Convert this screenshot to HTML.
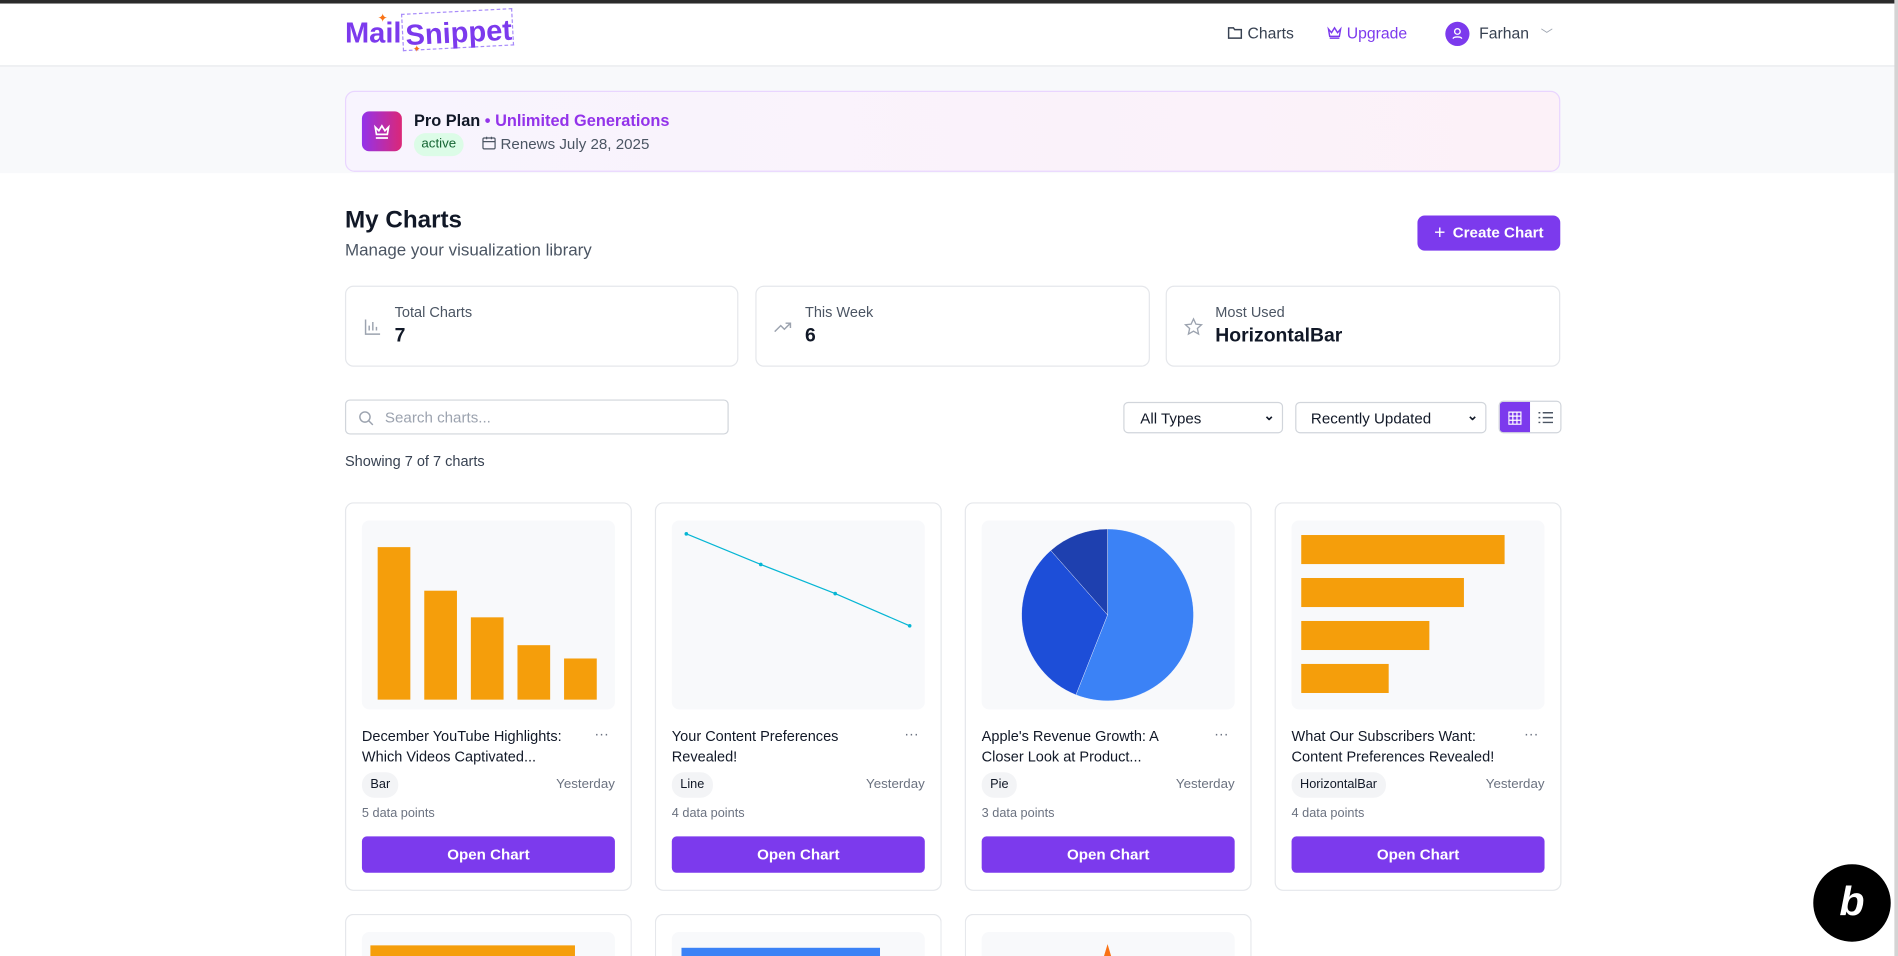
<!DOCTYPE html>
<html><head><meta charset="utf-8">
<style>
*{box-sizing:border-box;margin:0;padding:0}
html,body{width:1898px;height:956px;overflow:hidden;background:#fff;font-family:"Liberation Sans",Arial,sans-serif;color:#111827}
#wrap{position:absolute;left:0;top:0;width:1568px;height:790px;transform:scale(1.21046);transform-origin:0 0;background:#fff;overflow:hidden}
.abs{position:absolute}
.topbar{left:0;top:0;width:1568px;height:3px;background:#2b2b2b}
.header{left:0;top:3px;width:1568px;height:52px;background:#fff;border-bottom:1px solid #e5e7eb}
.grayband{left:0;top:55px;width:1568px;height:88px;background:#f8f9fb}
.nav{font-size:13px;color:#374151}
.banner{left:285px;top:75px;width:1004px;height:67px;border:1px solid #e9d5ff;border-radius:8px;background:linear-gradient(90deg,#f8f4fe,#fcf1f8)}
.card{border:1px solid #e5e7eb;border-radius:7px;background:#fff}
.stat .lbl{position:absolute;left:40px;top:14px;font-size:12px;color:#4b5563}
.stat .val{position:absolute;left:40px;top:32px;font-size:16px;font-weight:bold;color:#111827}
.ctl{border:1px solid #d1d5db;border-radius:4px;background:#fff;font-size:12.5px;color:#111827}
.chartcard .prev{position:absolute;left:13px;top:14px;width:209px;height:156px;background:#f8f9fb;border-radius:6px;overflow:hidden}
.chartcard .title{position:absolute;left:13px;top:184px;width:180px;font-size:12px;line-height:17px;color:#111827}
.chartcard .dots{position:absolute;left:205px;top:183px;font-size:12px;color:#6b7280;letter-spacing:0}
.chartcard .tag{position:absolute;left:13px;top:222px;height:21px;padding:0 7px;border-radius:10px;background:#f3f4f6;font-size:10.5px;line-height:21px;color:#111827}
.chartcard .when{position:absolute;right:13px;top:226px;font-size:11px;color:#6b7280}
.chartcard .pts{position:absolute;left:13px;top:250px;font-size:10.5px;color:#6b7280}
.chartcard .btn{position:absolute;left:13px;top:275px;width:209px;height:30px;border-radius:4px;background:#7c3aed;color:#fff;font-size:12.5px;font-weight:bold;text-align:center;line-height:30px}
</style></head><body>
<div id="wrap">
<div class="abs topbar"></div>
<div class="abs header"></div>
<div class="abs grayband"></div>

<div class="abs" style="left:285px;top:12px;width:145px;height:32px">
 <span class="abs" style="left:0;top:2px;font-size:24px;font-weight:bold;color:#7c3aed;white-space:nowrap">Mail</span>
 <span class="abs" style="left:27px;top:-2px;color:#f97316;font-size:10px">✦</span>
 <div class="abs" style="left:47px;top:-3px;width:92px;height:31px;border:1px dashed #a78bfa;transform:rotate(-3deg)"></div>
 <span class="abs" style="left:50px;top:2px;font-size:24px;font-weight:bold;color:#7c3aed;white-space:nowrap;transform:rotate(-3deg)">Snippet</span>
 <span class="abs" style="left:56px;top:24px;color:#f97316;font-size:8px">✦</span>
</div>

<div class="abs nav" style="left:1014px;top:20px">
 <svg width="13" height="12" viewBox="0 0 13 12" style="vertical-align:-1px"><path d="M1 2h4l1 1.5h5.5v7H1z" fill="none" stroke="#374151" stroke-width="1.2"/></svg> Charts</div>
<div class="abs nav" style="left:1096px;top:20px;color:#7c3aed">
 <svg width="13" height="12" viewBox="0 0 13 12" style="vertical-align:-1px"><path d="M1.5 3l2.5 3 2.5-4 2.5 4 2.5-3-1 6h-8z M2.5 10.5h8" fill="none" stroke="#7c3aed" stroke-width="1.2"/></svg> Upgrade</div>
<div class="abs" style="left:1194px;top:18px;width:20px;height:20px;border-radius:50%;background:#7c3aed">
 <svg width="20" height="20" viewBox="0 0 20 20"><circle cx="10" cy="8" r="2.3" fill="none" stroke="#fff" stroke-width="1.1"/><path d="M6.5 14c0-2 7-2 7 0" fill="none" stroke="#fff" stroke-width="1.1"/></svg></div>
<div class="abs nav" style="left:1222px;top:20px">Farhan <span style="color:#9ca3af;margin-left:6px;font-size:10px">﹀</span></div>

<div class="abs banner">
 <div class="abs" style="left:13px;top:16px;width:33px;height:33px;border-radius:6px;background:linear-gradient(90deg,#9333ea,#db2777)">
  <svg width="33" height="33" viewBox="0 0 33 33"><path d="M11 13l3 3 2.5-4 2.5 4 3-3-1 6h-9z M11.5 22h10" fill="none" stroke="#fff" stroke-width="1.4"/></svg></div>
 <div class="abs" style="left:56px;top:16px;font-size:13.5px;font-weight:bold;white-space:nowrap">Pro Plan <span style="color:#9333ea">• Unlimited Generations</span></div>
 <div class="abs" style="left:56px;top:34px;width:41px;height:19px;border-radius:10px;background:#dcfce7;color:#166534;font-size:11px;line-height:19px;text-align:center">active</div>
 <div class="abs" style="left:112px;top:36px;font-size:12.5px;color:#4b5563;white-space:nowrap">
  <svg width="12" height="12" viewBox="0 0 12 12" style="vertical-align:-1px"><rect x="1" y="2" width="10" height="9" rx="1" fill="none" stroke="#4b5563"/><path d="M1 5h10M4 1v2M8 1v2" stroke="#4b5563"/></svg> Renews July 28, 2025</div>
</div>

<div class="abs" style="left:285px;top:171px;font-size:20px;font-weight:bold">My Charts</div>
<div class="abs" style="left:285px;top:198px;font-size:14px;color:#4b5563">Manage your visualization library</div>
<div class="abs" style="left:1171px;top:178px;width:118px;height:29px;border-radius:6px;background:#7c3aed;color:#fff;font-size:12.5px;font-weight:bold;line-height:29px;text-align:center"><span style="font-size:16px;font-weight:normal;vertical-align:-1px;margin-right:6px">+</span>Create Chart</div>

<div class="abs card stat" style="left:285px;top:236px;width:325px;height:67px">
 <svg class="abs" style="left:15px;top:26px" width="14" height="14" viewBox="0 0 14 14"><path d="M1 1v12h12M4 10V6M7 10V3M10 10V7" fill="none" stroke="#9ca3af" stroke-width="1.2"/></svg>
 <div class="lbl">Total Charts</div><div class="val">7</div></div>
<div class="abs card stat" style="left:624px;top:236px;width:326px;height:67px">
 <svg class="abs" style="left:14px;top:27px" width="16" height="12" viewBox="0 0 16 12"><path d="M1 10l5-5 3 3 5-5M10 3h4v4" fill="none" stroke="#9ca3af" stroke-width="1.2"/></svg>
 <div class="lbl">This Week</div><div class="val">6</div></div>
<div class="abs card stat" style="left:963px;top:236px;width:326px;height:67px">
 <svg class="abs" style="left:14px;top:25px" width="16" height="16" viewBox="0 0 16 16"><path d="M8 1.5l2 4.3 4.6.5-3.4 3.1 1 4.6L8 11.6 3.8 14l1-4.6L1.4 6.3 6 5.8z" fill="none" stroke="#9ca3af" stroke-width="1.1"/></svg>
 <div class="lbl">Most Used</div><div class="val">HorizontalBar</div></div>

<div class="abs ctl" style="left:285px;top:330px;width:317px;height:29px;border-color:#d1d5db">
 <svg class="abs" style="left:10px;top:8px" width="13" height="13" viewBox="0 0 13 13"><circle cx="5.5" cy="5.5" r="4.2" fill="none" stroke="#9ca3af" stroke-width="1.2"/><path d="M8.5 8.5l3.5 3.5" stroke="#9ca3af" stroke-width="1.2"/></svg>
 <span class="abs" style="left:32px;top:7px;color:#9ca3af;font-size:12.5px">Search charts...</span></div>
<div class="abs ctl" style="left:928px;top:332px;width:132px;height:26px">
 <span class="abs" style="left:13px;top:6px">All Types</span><span class="abs" style="right:6px;top:4px;font-size:11px;font-weight:bold">⌄</span></div>
<div class="abs ctl" style="left:1070px;top:332px;width:158px;height:26px">
 <span class="abs" style="left:12px;top:6px">Recently Updated</span><span class="abs" style="right:6px;top:4px;font-size:11px;font-weight:bold">⌄</span></div>
<div class="abs ctl" style="left:1238px;top:331px;width:52px;height:27px;overflow:hidden">
 <div class="abs" style="left:0;top:0;width:25px;height:27px;background:#7c3aed">
  <svg class="abs" style="left:7px;top:8px" width="11" height="11" viewBox="0 0 11 11"><path d="M.5.5h10v10H.5zM3.8.5v10M7.2.5v10M.5 3.8h10M.5 7.2h10" fill="none" stroke="#fff" stroke-width="1"/></svg></div>
 <div class="abs" style="left:26px;top:0;width:25px;height:27px">
  <svg class="abs" style="left:6px;top:8px" width="12" height="10" viewBox="0 0 12 10"><path d="M0 1h1.5M0 5h1.5M0 9h1.5M3.5 1H12M3.5 5H12M3.5 9H12" stroke="#4b5563" stroke-width="1.2"/></svg></div>
</div>
<div class="abs" style="left:285px;top:374px;font-size:12px;color:#374151">Showing 7 of 7 charts</div>

<div id="cards"></div>

<div class="abs" style="left:1497px;top:713px;width:66px;height:66px;border-radius:50%;background:#000;border:1px solid #fff">
 <div class="abs" style="left:18px;top:12px;width:28px;height:38px;color:#fff;font-size:34px;font-weight:bold;font-style:italic;line-height:38px;text-align:center">b</div>
</div>
<div class="abs" style="left:1565px;top:0;width:3px;height:790px;background:#d4d4d4"></div>
</div>

<script>
// ---- chart data ----
const barValues = [126, 90, 68, 45, 34];
const barMax = 140;
const lineValues = [90, 70, 51, 30];
const lineMin = 30, lineMax = 90;
const pieValues = [56, 32.5, 11.5];
const pieColors = ["#3b82f6", "#1d4ed8", "#1e40af"];
const hbarValues = [100, 80, 63, 43];
const hbarMax = 100;

const cardTitles = ["December YouTube Highlights: Which Videos Captivated...", "Your Content Preferences Revealed!", "Apple's Revenue Growth: A Closer Look at Product...", "What Our Subscribers Want: Content Preferences Revealed!"];
const cardTypes = ["Bar", "Line", "Pie", "HorizontalBar"];
const cardPoints = [5, 4, 3, 4];

const NS = "http://www.w3.org/2000/svg";
const cardsEl = document.getElementById('cards');
function mk(tag, attrs, parent){const e=document.createElementNS(NS,tag);for(const k in attrs)e.setAttribute(k,attrs[k]);parent.appendChild(e);return e;}

function makeCard(i, top, h){
  const c=document.createElement('div');
  c.className='abs card chartcard';
  c.style.left=(285+i*256)+'px';c.style.top=top+'px';c.style.width='237px';c.style.height=h+'px';
  if(h<100){c.style.borderBottom='none';c.style.borderRadius='7px 7px 0 0';}
  
  
  const p=document.createElement('div');p.className='prev';
  if(h<100){p.style.height=(h-14)+'px';p.style.borderRadius='6px 6px 0 0';}
  
  
  c.appendChild(p);
  const svg=document.createElementNS(NS,'svg');svg.setAttribute('width','209');svg.setAttribute('height', h<100 ? String(h-14) : '156');
  p.appendChild(svg);
  cardsEl.appendChild(c);
  return {c,svg};
}

for(let i=0;i<4;i++){
  const {c,svg}=makeCard(i,415,321);
  const t=document.createElement('div');t.className='title';t.textContent=cardTitles[i];
  
  
  c.appendChild(t);
  const d=document.createElement('div');d.className='dots';d.textContent='···';
  
  
  c.appendChild(d);
  const tg=document.createElement('div');tg.className='tag';tg.textContent=cardTypes[i];
  
  
  c.appendChild(tg);
  const w=document.createElement('div');w.className='when';w.textContent='Yesterday';
  
  
  c.appendChild(w);
  const pt=document.createElement('div');pt.className='pts';pt.textContent=cardPoints[i]+' data points';
  
  
  c.appendChild(pt);
  const b=document.createElement('div');b.className='btn';b.textContent='Open Chart';
  
  
  c.appendChild(b);

  if(i===0){
    const base=148, x0=13, step=38.5, bw=27;
    const y=v=>base - v/barMax*140;
    barValues.forEach((v,k)=>{
      const r=mk('rect',{x:x0+k*step,y:y(v),width:bw,height:base-y(v),fill:'#f59e0b'},svg);
      
      
    });
  } else if(i===1){
    const x=k=>12+k*61.5;
    const y=v=>87 - (v-lineMin)/(lineMax-lineMin)*76;
    const pl=mk('polyline',{points:lineValues.map((v,k)=>x(k)+','+y(v)).join(' '),fill:'none',stroke:'#06b6d4','stroke-width':1},svg);
    
    
    lineValues.forEach((v,k)=>{
      const pnt=mk('circle',{cx:x(k),cy:y(v),r:1.5,fill:'#06b6d4'},svg);
      
      
    });
  } else if(i===2){
    const cx=104, cy=78, r=71, tot=pieValues.reduce((a,b)=>a+b,0);
    let a0=0;
    pieValues.forEach((v,k)=>{
      const a1=a0+v/tot*2*Math.PI;
      const p0=[cx+r*Math.sin(a0),cy-r*Math.cos(a0)], p1=[cx+r*Math.sin(a1),cy-r*Math.cos(a1)];
      const large=(a1-a0)>Math.PI?1:0;
      const s=mk('path',{d:`M${cx},${cy}L${p0[0]},${p0[1]}A${r},${r} 0 ${large} 1 ${p1[0]},${p1[1]}Z`,fill:pieColors[k],stroke:'#fff','stroke-width':0.3},svg);
      
      
      a0=a1;
    });
  } else {
    const x0=8, bh=24, step=35.5, y0=12;
    const w=v=>v/hbarMax*168;
    hbarValues.forEach((v,k)=>{
      const r=mk('rect',{x:x0,y:y0+k*step,width:w(v),height:bh,fill:'#f59e0b'},svg);
      
      
    });
  }
}
for(let i=0;i<3;i++){
  const {svg}=makeCard(i,755,35);
  let m;
  if(i===0) m=mk('rect',{x:7,y:11,width:169,height:20,fill:'#f59e0b'},svg);
  if(i===1) m=mk('rect',{x:8,y:13,width:164,height:20,fill:'#3b82f6'},svg);
  if(i===2) m=mk('path',{d:'M104,10 L95,40 L113,40 Z',fill:'#f97316'},svg);
  
  
}
</script>
</body></html>
